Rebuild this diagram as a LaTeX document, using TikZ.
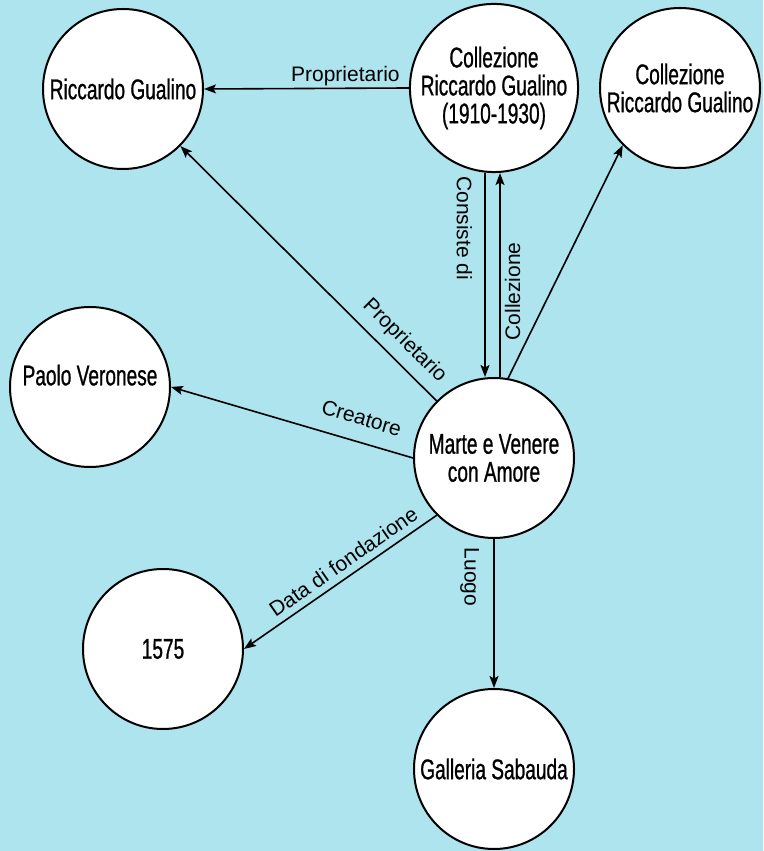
\documentclass[tikz,border=0pt]{standalone}
\usepackage{fontspec}
\setmainfont{Liberation Sans}
\newfontfamily\nodefont[FakeStretch=0.67, FakeBold=0.8]{Liberation Sans}
\usetikzlibrary{arrows.meta}
\definecolor{bgblue}{RGB}{173,228,238}

\begin{document}
\begin{tikzpicture}[x=1pt, y=1pt,
  ent/.style={circle, draw, line width=2pt, fill=white, minimum size=160pt, inner sep=0pt, align=center, font=\nodefont\fontsize{28.5}{28}\selectfont},
  rel/.style={line width=1.6pt, -{Stealth[length=12pt, width=9pt, inset=2.5pt]}},
  lbl/.style={inner sep=0pt, font=\fontsize{21}{24}\selectfont}]
\fill[bgblue] (0,0) rectangle (763,851);
\node[ent] (rg) at (123,762) {Riccardo Gualino};
\node[ent] (coll) at (494,763) {Collezione\\Riccardo Gualino\\(1910-1930)};
\node[ent] (coll2) at (680,763) {Collezione\\Riccardo Gualino};
\node[ent, text depth=24pt] (pv) at (90,464) {Paolo Veronese};
\node[ent] (mv) at (494,393) {Marte e Venere\\con Amore};
\node[ent] (yr) at (163,202) {1575};
\node[ent] (gs) at (494,82) {Galleria Sabauda};
 \draw[rel] (coll.west) -- (rg.east) node[lbl, pos=0.31, anchor=south, outer sep=2pt] {Proprietario};
 \draw[rel] ([xshift=-9pt]coll.south) -- ([xshift=-9pt]mv.north) node[lbl, pos=0.27, rotate=-90, anchor=north, outer sep=13pt] {Consiste di};
 \draw[rel] ([xshift=6pt]mv.north) -- ([xshift=6pt]coll.south) node[lbl, pos=0.42, rotate=90, anchor=north, outer sep=5pt] {Collezione};
 \draw[rel] (mv.80) -- (coll2.225);
 \draw[rel] (mv) -- (rg) node[lbl, pos=0.18, sloped, anchor=south, outer sep=10pt] {Proprietario};
 \draw[rel] (mv.west) -- (pv.east) node[lbl, pos=0.24, sloped, anchor=south, outer sep=16.5pt] {Creatore};
 \draw[rel] (mv.225) -- (yr.east) node[lbl, pos=0.44, sloped, anchor=south, outer sep=7.5pt] {Data di fondazione};
 \draw[rel] (mv.south) -- (gs.north) node[lbl, pos=0.255, rotate=-90, anchor=north, outer sep=15pt] {Luogo};
\end{tikzpicture}
\end{document}
